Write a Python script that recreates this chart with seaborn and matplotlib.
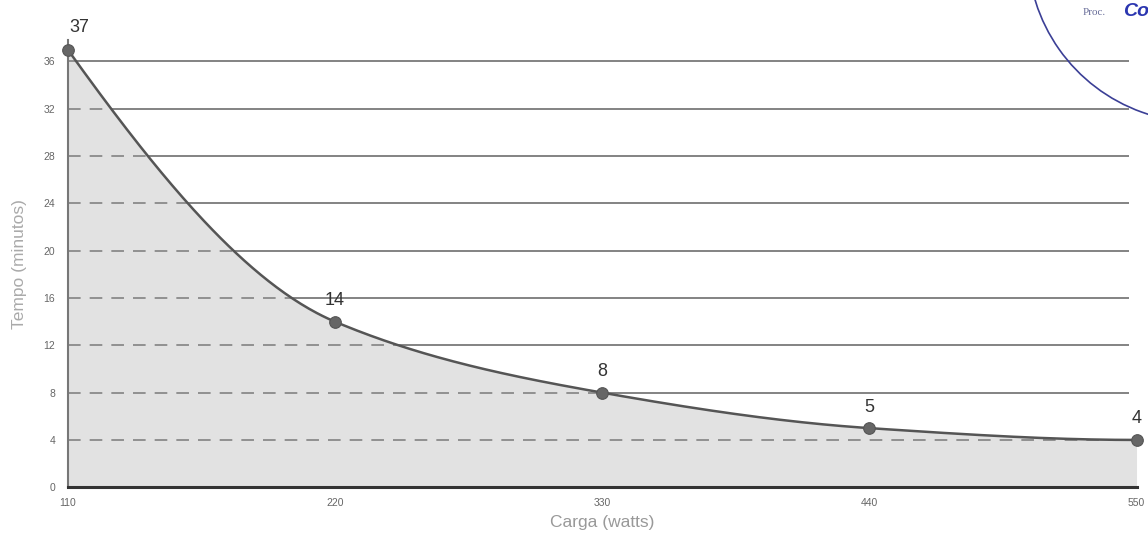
import numpy as np
import pandas as pd
import seaborn as sns
import matplotlib.pyplot as plt
from matplotlib.patches import Arc

carga = [110, 220, 330, 440, 550]
tempo = [37, 14, 8, 5, 4]
y_ticks = [0, 4, 8, 12, 16, 20, 24, 28, 32, 36]
x_ticks = [110, 220, 330, 440, 550]

LINE_COLOR = '#555555'
FILL_COLOR = '#e2e2e2'
GRID_COLOR = '#7a7a7a'


def pchip(x, y, xs):
    # monotone cubic so the curve passes smoothly through the points
    x = np.asarray(x, float)
    y = np.asarray(y, float)
    h = np.diff(x)
    delta = np.diff(y) / h
    d = np.zeros_like(y)
    for k in range(1, len(x) - 1):
        if delta[k - 1] * delta[k] > 0:
            w1 = 2 * h[k] + h[k - 1]
            w2 = h[k] + 2 * h[k - 1]
            d[k] = (w1 + w2) / (w1 / delta[k - 1] + w2 / delta[k])
    d[0] = ((2 * h[0] + h[1]) * delta[0] - h[0] * delta[1]) / (h[0] + h[1])
    d[-1] = ((2 * h[-1] + h[-2]) * delta[-1] - h[-1] * delta[-2]) / (h[-1] + h[-2])
    idx = np.clip(np.searchsorted(x, xs) - 1, 0, len(x) - 2)
    t = (xs - x[idx]) / h[idx]
    h00 = 2 * t**3 - 3 * t**2 + 1
    h10 = t**3 - 2 * t**2 + t
    h01 = -2 * t**3 + 3 * t**2
    h11 = t**3 - t**2
    return h00 * y[idx] + h10 * h[idx] * d[idx] + h01 * y[idx + 1] + h11 * h[idx] * d[idx + 1]


df = pd.DataFrame({'Carga': carga, 'Tempo': tempo})

sns.set_theme(style='white')
plt.rcParams['font.family'] = ['Liberation Sans', 'DejaVu Sans']

fig = plt.figure(figsize=(11.48, 5.42), dpi=100)
ax = fig.add_axes([0.059, 0.101, 0.931, 0.825])

xs = np.linspace(carga[0], carga[-1], 400)
ys = pchip(carga, tempo, xs)

# solid grid lines, hidden under the fill
ax.hlines(y_ticks[1:], carga[0], 547, color=GRID_COLOR, lw=1.3, zorder=0)
fill = ax.fill_between(xs, ys, 0, color=FILL_COLOR, lw=0, zorder=1)
# dashed grid lines only inside the filled area
for yv in y_ticks[1:]:
    ln = ax.axhline(yv, color='#8a8a8a', lw=1.3, dashes=(7, 5), zorder=2)
    ln.set_clip_path(fill.get_paths()[0], ax.transData)

ax.plot(xs, ys, color=LINE_COLOR, lw=1.8, zorder=3)
sns.scatterplot(data=df, x='Carga', y='Tempo', ax=ax, color='#666666', s=70,
                edgecolor='#555555', linewidth=0.8, zorder=4, clip_on=False)

for x, y in zip(carga, tempo):
    if x == carga[0]:
        ax.annotate(str(y), (x, y), xytext=(1, 10), textcoords='offset points',
                    ha='left', va='bottom', fontsize=13, color='#333333')
    else:
        ax.annotate(str(y), (x, y), xytext=(0, 9), textcoords='offset points',
                    ha='center', va='bottom', fontsize=13, color='#333333')

ax.set_xlim(110, 550)
ax.set_ylim(0, 37.8)
ax.set_xticks(x_ticks)
ax.set_yticks(y_ticks)
ax.set_xticklabels([str(v) for v in x_ticks])
ax.set_yticklabels([str(v) for v in y_ticks])
ax.tick_params(axis='both', length=0, labelsize=7.5, labelcolor='#666666')
ax.tick_params(axis='y', pad=9)
ax.tick_params(axis='x', pad=8)

ax.set_xlabel('Carga (watts)', fontsize=12.5, color='#999999', labelpad=5)
ax.set_ylabel('Tempo (minutos)', fontsize=12.5, color='#aaaaaa', labelpad=12)

sns.despine(ax=ax, top=True, right=True)
ax.spines['left'].set_color('#777777')
ax.spines['left'].set_linewidth(1.5)
ax.spines['bottom'].set_color('#333333')
ax.spines['bottom'].set_linewidth(2.2)

# stamp in the top right corner of the scan
stamp = Arc((1.045, 1.092), 2 * 172 / 1148, 2 * 172 / 542, transform=fig.transFigure,
            color='#3b3f96', lw=1.2, theta1=180, theta2=300)
fig.add_artist(stamp)
fig.text(0.943, 0.972, 'Proc.', fontsize=8, color='#6a6f9a', family='Liberation Serif')
fig.text(0.978, 0.970, 'Co', fontsize=14, color='#2b36b0', style='italic', weight='bold')

fig.savefig('out.png', dpi=100)
